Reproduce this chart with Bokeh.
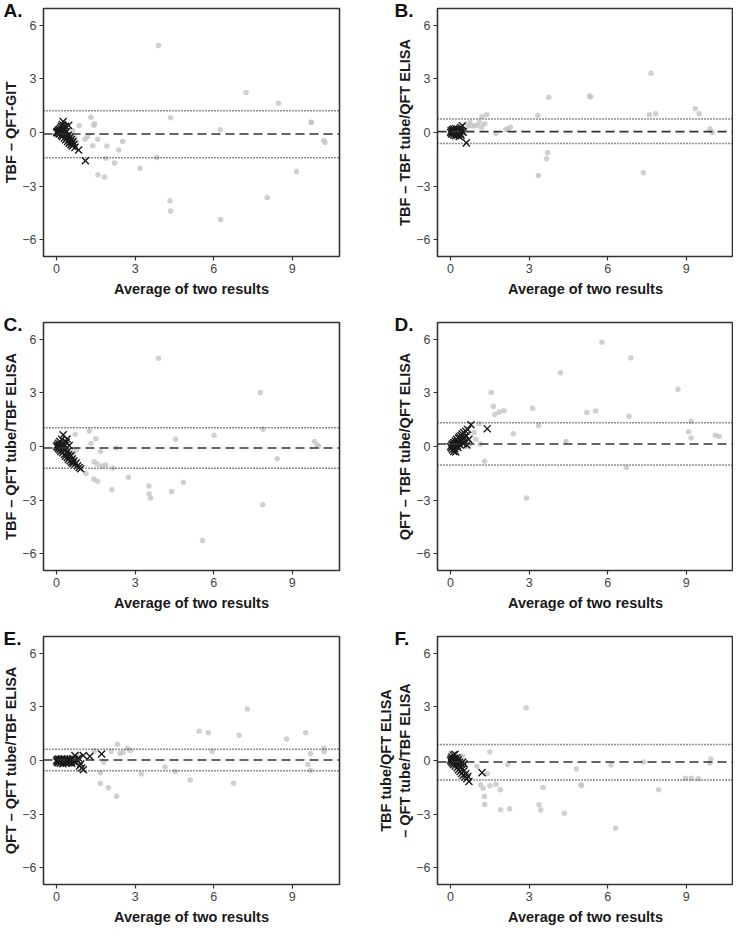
from bokeh.plotting import figure
from bokeh.models import Range1d, FixedTicker, Span
from bokeh.layouts import row, column
from bokeh.embed import file_html
from bokeh.resources import INLINE

# ---------------- data ----------------
x_ticks = [0, 3, 6, 9]
y_ticks = [-6, -3, 0, 3, 6]
x_label = "Average of two results"

# Panel A: TBF – QFT-GIT
a_gray_x = [3.89, 7.23, 8.47, 4.35, 9.71, 9.73, 6.25, 1.31, 1.42, 1.45, 0.86, 1.08, 1.18, 1.57, 1.38, 1.92,
            2.52, 2.37, 1.88, 2.21, 3.83, 3.19, 1.58, 1.83, 10.2, 10.25, 9.16, 8.04, 4.33, 4.35, 6.26, 0.77,
            0.62, 0.55, 0.70]
a_gray_y = [4.88, 2.24, 1.64, 0.82, 0.58, 0.56, 0.16, 0.85, 0.39, 0.49, 0.39, -0.38, -0.23, -0.38, -0.74, -0.76,
            -0.50, -0.98, -1.44, -1.71, -1.40, -2.0, -2.37, -2.50, -0.45, -0.56, -2.19, -3.65, -3.82, -4.40, -4.88, -0.56,
            0.10, -0.15, -0.30]
a_x_x = [0.00, 0.02, 0.05, 0.06, 0.08, 0.10, 0.10, 0.12, 0.14, 0.15, 0.16, 0.18, 0.18, 0.20, 0.22, 0.22, 0.24,
         0.25, 0.26, 0.28, 0.30, 0.30, 0.32, 0.34, 0.35, 0.36, 0.38, 0.40, 0.42, 0.44, 0.46, 0.46, 0.48, 0.50,
         0.52, 0.55, 0.56, 0.58, 0.60, 0.62, 0.66, 0.70, 0.84, 1.10]
a_x_y = [0.00, 0.05, -0.02, 0.12, 0.03, -0.08, 0.18, 0.08, -0.05, 0.25, 0.00, -0.15, 0.35, 0.10, -0.22, 0.45, 0.02,
         0.62, -0.10, 0.25, -0.30, 0.15, -0.05, 0.35, -0.40, -0.20, 0.05, -0.32, -0.50, -0.15, 0.40, -0.42, -0.60, -0.30,
         -0.52, -0.68, -0.40, -0.58, -0.75, -0.50, -0.66, -0.84, -0.98, -1.58]
a_mean, a_upper, a_lower = -0.08, 1.22, -1.42

# Panel B: TBF – TBF tube/QFT ELISA
b_gray_x = [7.65, 3.75, 5.30, 5.35, 9.34, 9.49, 7.83, 7.59, 3.33, 1.38, 1.20, 1.30, 1.18, 1.09, 0.74, 0.78,
            0.90, 1.00, 0.65, 2.28, 2.18, 2.11, 1.73, 9.90, 9.99, 3.70, 3.66, 3.35, 7.36, 0.55, 0.50]
b_gray_y = [3.32, 1.97, 2.04, 1.99, 1.33, 1.05, 1.05, 1.00, 0.96, 1.00, 0.90, 0.49, 0.30, 0.58, 0.58, 0.39,
            0.36, 0.39, 0.36, 0.30, 0.21, 0.16, -0.05, 0.19, 0.00, -1.13, -1.47, -2.41, -2.26, 0.15, -0.10]
b_x_x = [0.00, 0.02, 0.04, 0.05, 0.07, 0.08, 0.10, 0.11, 0.12, 0.14, 0.15, 0.16, 0.18, 0.19, 0.20, 0.22,
         0.23, 0.25, 0.26, 0.28, 0.30, 0.31, 0.33, 0.35, 0.36, 0.38, 0.40, 0.42, 0.45, 0.48, 0.60]
b_x_y = [0.00, 0.10, -0.08, 0.05, 0.15, -0.02, 0.08, -0.12, 0.20, 0.02, -0.05, 0.12, -0.18, 0.06, 0.22, -0.08,
         0.10, -0.15, 0.02, 0.18, -0.10, 0.05, -0.22, 0.12, -0.05, 0.28, -0.15, 0.08, 0.38, 0.02, -0.58]
b_mean, b_upper, b_lower = 0.05, 0.76, -0.61

# Panel C: TBF – QFT tube/TBF ELISA
c_gray_x = [3.89, 7.78, 7.88, 6.01, 4.54, 9.85, 9.94, 10.0, 8.42, 1.25, 1.50, 1.31, 0.71, 2.27, 1.68, 1.43,
            1.56, 1.73, 1.87, 2.16, 1.12, 1.42, 1.56, 2.74, 2.11, 3.52, 3.53, 3.59, 4.39, 4.84, 7.87, 5.57,
            0.65, 0.75]
c_gray_y = [4.94, 3.03, 0.96, 0.63, 0.41, 0.28, 0.10, 0.01, -0.69, 0.87, 0.43, 0.17, 0.69, -0.08, -0.28, -0.85,
            -1.00, -1.09, -1.03, -1.20, -1.51, -1.82, -1.95, -1.73, -2.43, -2.21, -2.65, -2.89, -2.52, -2.02, -3.27, -5.27,
            -0.40, -0.20]
c_x_x = [0.00, 0.03, 0.05, 0.07, 0.08, 0.10, 0.12, 0.13, 0.15, 0.16, 0.18, 0.20, 0.21, 0.23, 0.25, 0.26,
         0.28, 0.30, 0.32, 0.34, 0.35, 0.37, 0.38, 0.40, 0.41, 0.43, 0.45, 0.46, 0.48, 0.50, 0.52, 0.55,
         0.57, 0.60, 0.62, 0.66, 0.70, 0.75, 0.80, 0.86, 0.92]
c_x_y = [0.00, 0.08, -0.05, 0.18, -0.12, 0.05, 0.28, -0.18, 0.10, -0.28, 0.00, 0.40, -0.10, -0.35, 0.65, 0.15,
         -0.22, -0.45, 0.05, -0.55, -0.15, 0.25, -0.38, 0.42, -0.62, -0.25, -0.72, -0.45, 0.05, -0.58, -0.80, -0.50,
         -0.88, -0.70, -0.95, -0.82, -1.00, -0.92, -1.08, -1.18, -1.25]
c_mean, c_upper, c_lower = -0.08, 1.05, -1.22

# Panel D: QFT – TBF tube/QFT ELISA
d_gray_x = [5.78, 6.88, 4.19, 8.68, 1.55, 1.63, 1.69, 1.86, 2.04, 3.13, 5.20, 5.54, 6.81, 3.36, 2.39, 4.40,
            9.18, 9.08, 9.18, 10.11, 10.25, 6.71, 2.90, 1.30, 1.13, 0.96, 0.90, 1.09, 0.71, 0.60]
d_gray_y = [5.85, 4.97, 4.13, 3.21, 3.03, 2.24, 1.79, 1.93, 2.00, 2.15, 1.91, 1.99, 1.69, 1.18, 0.72, 0.28,
            1.42, 0.82, 0.47, 0.63, 0.56, -1.18, -2.88, -0.83, 0.14, 0.41, 0.78, 1.27, 0.05, 0.00]
d_x_x = [0.00, 0.03, 0.05, 0.07, 0.08, 0.10, 0.12, 0.13, 0.15, 0.16, 0.18, 0.20, 0.21, 0.23, 0.25, 0.26,
         0.28, 0.30, 0.32, 0.34, 0.35, 0.37, 0.40, 0.42, 0.44, 0.46, 0.48, 0.50, 0.52, 0.55, 0.58, 0.60,
         0.62, 0.65, 0.70, 0.78, 1.40]
d_x_y = [0.00, -0.08, 0.08, -0.18, 0.15, 0.02, -0.28, 0.22, 0.10, -0.12, 0.30, -0.30, 0.18, 0.40, 0.05, 0.28,
         -0.05, 0.48, 0.20, 0.55, 0.10, 0.38, 0.62, 0.28, 0.70, 0.45, 0.15, 0.78, 0.50, 0.30, 0.85, 0.60,
         0.08, 0.95, 0.40, 1.22, 1.00]
d_mean, d_upper, d_lower = 0.14, 1.33, -1.03

# Panel E: QFT – QFT tube/TBF ELISA
e_gray_x = [7.28, 5.44, 5.79, 6.97, 9.51, 8.78, 5.94, 9.69, 10.21, 10.21, 9.59, 9.69, 4.14, 4.53, 3.23, 5.10,
            6.76, 2.32, 2.42, 2.54, 2.72, 2.82, 2.08, 1.80, 1.67, 1.67, 1.98, 2.29, 0.65, 0.85, 1.45]
e_gray_y = [2.88, 1.64, 1.55, 1.42, 1.55, 1.20, 0.50, 0.39, 0.69, 0.49, -0.23, -0.56, -0.36, -0.61, -0.76, -1.09,
            -1.27, 0.91, 0.41, 0.46, 0.67, 0.56, 0.50, -0.10, -0.69, -1.29, -1.53, -2.00, 0.20, 0.35, 0.55]
e_x_x = [0.00, 0.02, 0.04, 0.06, 0.08, 0.10, 0.12, 0.14, 0.16, 0.18, 0.20, 0.22, 0.24, 0.26, 0.28, 0.30,
         0.32, 0.35, 0.38, 0.40, 0.42, 0.45, 0.48, 0.50, 0.54, 0.58, 0.62, 0.66, 0.70, 0.74, 0.78, 0.84,
         0.88, 0.92, 0.96, 1.02, 1.02, 1.27, 1.72]
e_x_y = [0.00, -0.08, 0.05, -0.12, 0.08, -0.05, 0.02, -0.15, 0.06, -0.08, 0.10, -0.02, -0.18, 0.04, -0.10, 0.08,
         -0.06, 0.02, -0.14, 0.06, -0.04, -0.12, 0.05, -0.08, 0.02, -0.15, 0.10, -0.05, 0.28, -0.12, 0.05, 0.14,
         -0.30, -0.20, -0.42, 0.28, -0.52, 0.23, 0.36]
e_mean, e_upper, e_lower = 0.03, 0.63, -0.58

# Panel F: TBF tube/QFT ELISA – QFT tube/TBF ELISA
f_gray_x = [2.88, 1.50, 9.94, 9.90, 7.36, 6.12, 4.80, 4.98, 5.00, 8.96, 9.19, 9.46, 7.94, 2.18, 1.40, 1.15,
            1.24, 1.50, 1.73, 1.29, 1.90, 3.53, 1.30, 1.91, 2.25, 3.38, 3.44, 4.34, 6.30, 1.00, 0.55, 0.45]
f_gray_y = [2.96, 0.47, 0.08, -0.14, -0.08, -0.25, -0.47, -1.38, -1.40, -1.00, -1.00, -1.02, -1.64, -0.23, -0.74, -1.36,
            -1.56, -1.42, -1.33, -2.02, -1.64, -1.51, -2.46, -2.76, -2.70, -2.48, -2.77, -2.96, -3.80, -0.32, -0.10, 0.25]
f_x_x = [0.00, 0.02, 0.04, 0.05, 0.07, 0.08, 0.10, 0.11, 0.12, 0.14, 0.15, 0.17, 0.18, 0.20, 0.22, 0.24,
         0.25, 0.27, 0.29, 0.30, 0.32, 0.34, 0.36, 0.38, 0.40, 0.42, 0.44, 0.46, 0.48, 0.50, 0.52, 0.55,
         0.58, 0.62, 0.66, 0.70, 1.20]
f_x_y = [0.00, 0.10, -0.08, 0.20, 0.02, -0.15, 0.30, 0.05, -0.22, 0.12, -0.05, 0.35, -0.30, 0.00, -0.18, 0.15,
         -0.40, -0.08, 0.05, -0.52, -0.25, -0.10, -0.62, -0.35, -0.18, -0.72, -0.50, -0.08, -0.82, -0.60, -0.20, -0.92,
         -0.75, -1.02, -0.90, -1.18, -0.68]
f_mean, f_upper, f_lower = -0.08, 0.89, -1.09

FONT = "Liberation Sans"
FRAME_W = 296
FRAME_H = 248
TOP = 8


def panel(letter, ylabel, gx, gy, xx, xy, mean, upper, lower, left, right, bottom, letter_dx):
    p = figure(frame_width=FRAME_W, frame_height=FRAME_H,
               min_border_left=left, min_border_right=right, min_border_top=TOP, min_border_bottom=bottom,
               x_range=Range1d(-0.5, 10.8), y_range=Range1d(-6.95, 6.95),
               output_backend="svg", toolbar_location=None, tools="")
    p.grid.visible = False
    p.outline_line_color = "#333333"
    p.outline_line_width = 1.6
    p.background_fill_color = "white"
    p.border_fill_color = "white"
    for ax in (p.xaxis[0], p.yaxis[0]):
        ax.axis_line_color = None
        ax.major_tick_line_color = "#333333"
        ax.major_tick_line_width = 1.2
        ax.major_tick_out = 4
        ax.major_tick_in = 0
        ax.minor_tick_line_color = None
        ax.major_label_text_font = FONT
        ax.major_label_text_font_size = "12.5px"
        ax.major_label_text_color = "#444444"
        ax.axis_label_text_font = FONT
        ax.axis_label_text_font_style = "bold"
        ax.axis_label_text_font_size = "14.5px"
        ax.axis_label_text_color = "#1a1a1a"
    p.xaxis.ticker = FixedTicker(ticks=x_ticks)
    p.yaxis.ticker = FixedTicker(ticks=y_ticks)
    p.xaxis.axis_label = x_label
    p.yaxis.axis_label = ylabel
    p.xaxis.major_label_standoff = 3
    p.yaxis.major_label_standoff = 3
    p.xaxis.axis_label_standoff = 5
    p.yaxis.axis_label_standoff = 0

    p.title.text = letter
    p.title.align = "left"
    p.title.offset = letter_dx
    p.title.standoff = -24
    p.title.text_font = FONT
    p.title.text_font_style = "bold"
    p.title.text_font_size = "19px"
    p.title.text_color = "#111111"

    p.scatter(gx, gy, size=5.5, marker="circle", fill_color="#c4c4c4", line_color=None, fill_alpha=0.8)
    p.add_layout(Span(location=mean, dimension="width", line_color="#333333", line_width=1.6, line_dash="9 5"))
    p.add_layout(Span(location=upper, dimension="width", line_color="#222222", line_width=1.5, line_dash="1 2"))
    p.add_layout(Span(location=lower, dimension="width", line_color="#222222", line_width=1.5, line_dash="1 2"))
    p.scatter(xx, xy, size=10, marker="x", line_color="#1a1a1a", line_width=1.4)
    return p


LW, LR = 40, 31
RW, RR = 67, 0
B1, B3 = 58, 42

pA = panel("A.", "TBF – QFT-GIT", a_gray_x, a_gray_y, a_x_x, a_x_y, a_mean, a_upper, a_lower, LW, LR, B1, -40)
pB = panel("B.", "TBF – TBF tube/QFT ELISA", b_gray_x, b_gray_y, b_x_x, b_x_y, b_mean, b_upper, b_lower, RW, RR, B1, -43)
pC = panel("C.", "TBF – QFT tube/TBF ELISA", c_gray_x, c_gray_y, c_x_x, c_x_y, c_mean, c_upper, c_lower, LW, LR, B1, -40)
pD = panel("D.", "QFT – TBF tube/QFT ELISA", d_gray_x, d_gray_y, d_x_x, d_x_y, d_mean, d_upper, d_lower, RW, RR, B1, -43)
pE = panel("E.", "QFT – QFT tube/TBF ELISA", e_gray_x, e_gray_y, e_x_x, e_x_y, e_mean, e_upper, e_lower, LW, LR, B3, -40)
pF = panel("F.", "TBF tube/QFT ELISA\n– QFT tube/TBF ELISA", f_gray_x, f_gray_y, f_x_x, f_x_y, f_mean, f_upper, f_lower, RW, RR, B3, -43)

layout = column(row(pA, pB), row(pC, pD), row(pE, pF))
open("out.html", "w").write(file_html(layout, INLINE))
